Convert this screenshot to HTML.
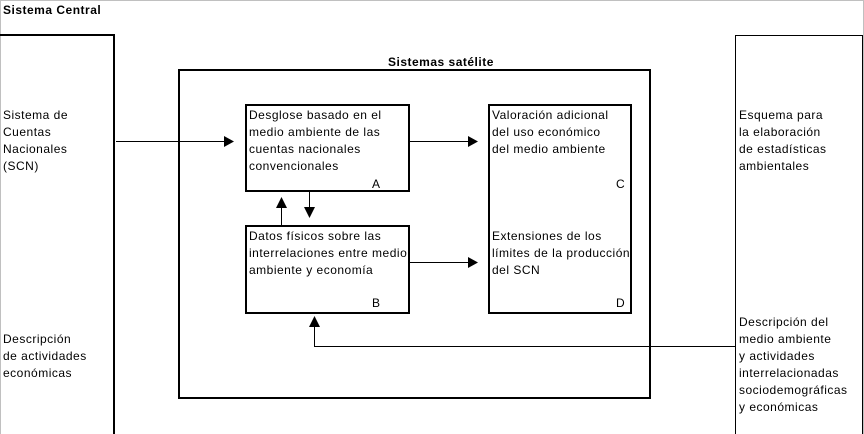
<!DOCTYPE html>
<html><head><meta charset="utf-8"><style>
body{margin:0;background:#fff}
svg{display:block}
text{font-family:"Liberation Sans",sans-serif;font-size:12px;fill:#000;letter-spacing:0.5px}
.b{font-weight:bold}
</style></head><body>
<svg width="864" height="434" viewBox="0 0 864 434">
<rect x="0.5" y="0.5" width="863" height="440" fill="none" stroke="#c0c0c0"/>
<text x="3" y="14" class="b">Sistema Central</text>
<polyline points="0,35 114,35 114,434" fill="none" stroke="#000" stroke-width="2"/>
<text x="3" y="119">Sistema de</text>
<text x="3" y="136">Cuentas</text>
<text x="3" y="153">Nacionales</text>
<text x="3" y="170">(SCN)</text>
<text x="3" y="343">Descripción</text>
<text x="3" y="360">de actividades</text>
<text x="3" y="377">económicas</text>
<rect x="735.5" y="35.5" width="127" height="400" fill="none" stroke="#000"/>
<text x="739" y="119">Esquema para</text>
<text x="739" y="136">la elaboración</text>
<text x="739" y="153">de estadísticas</text>
<text x="739" y="170">ambientales</text>
<text x="739" y="326">Descripción del</text>
<text x="739" y="343">medio ambiente</text>
<text x="739" y="360">y actividades</text>
<text x="739" y="377">interrelacionadas</text>
<text x="739" y="394">sociodemográficas</text>
<text x="739" y="411">y económicas</text>
<text x="388" y="66" class="b">Sistemas satélite</text>
<rect x="179" y="70" width="471" height="328" fill="none" stroke="#000" stroke-width="2"/>
<rect x="246" y="105" width="163" height="86" fill="#fff" stroke="#000" stroke-width="2"/>
<text x="249" y="119">Desglose basado en el</text>
<text x="249" y="136">medio ambiente de las</text>
<text x="249" y="153">cuentas nacionales</text>
<text x="249" y="170">convencionales</text>
<text x="372" y="188">A</text>
<rect x="246" y="226" width="163" height="87" fill="#fff" stroke="#000" stroke-width="2"/>
<text x="249" y="240">Datos físicos sobre las</text>
<text x="249" y="257">interrelaciones entre medio</text>
<text x="249" y="274">ambiente y economía</text>
<text x="372" y="307">B</text>
<rect x="489" y="105" width="142" height="208" fill="#fff" stroke="#000" stroke-width="2"/>
<text x="492" y="119">Valoración adicional</text>
<text x="492" y="136">del uso económico</text>
<text x="492" y="153">del medio ambiente</text>
<text x="616" y="188">C</text>
<text x="492" y="240">Extensiones de los</text>
<text x="492" y="257">límites de la producción</text>
<text x="492" y="274">del SCN</text>
<text x="616" y="307">D</text>
<g stroke="#000" stroke-width="1">
<line x1="116" y1="141.5" x2="226" y2="141.5"/>
<line x1="409" y1="141.5" x2="470" y2="141.5"/>
<line x1="409" y1="262.5" x2="470" y2="262.5"/>
<line x1="309.5" y1="191" x2="309.5" y2="208"/>
<line x1="281.5" y1="225" x2="281.5" y2="207"/>
<polyline points="735,346.5 314.5,346.5 314.5,326" fill="none"/>
</g>
<g fill="#000">
<polygon points="224,136 234,141.5 224,147"/>
<polygon points="468,136 478,141.5 468,147"/>
<polygon points="468,257 478,262.5 468,268"/>
<polygon points="304,207 315,207 309.5,218"/>
<polygon points="276,208 287,208 281.5,197"/>
<polygon points="309,327 320,327 314.5,316"/>
</g>
</svg>
</body></html>
